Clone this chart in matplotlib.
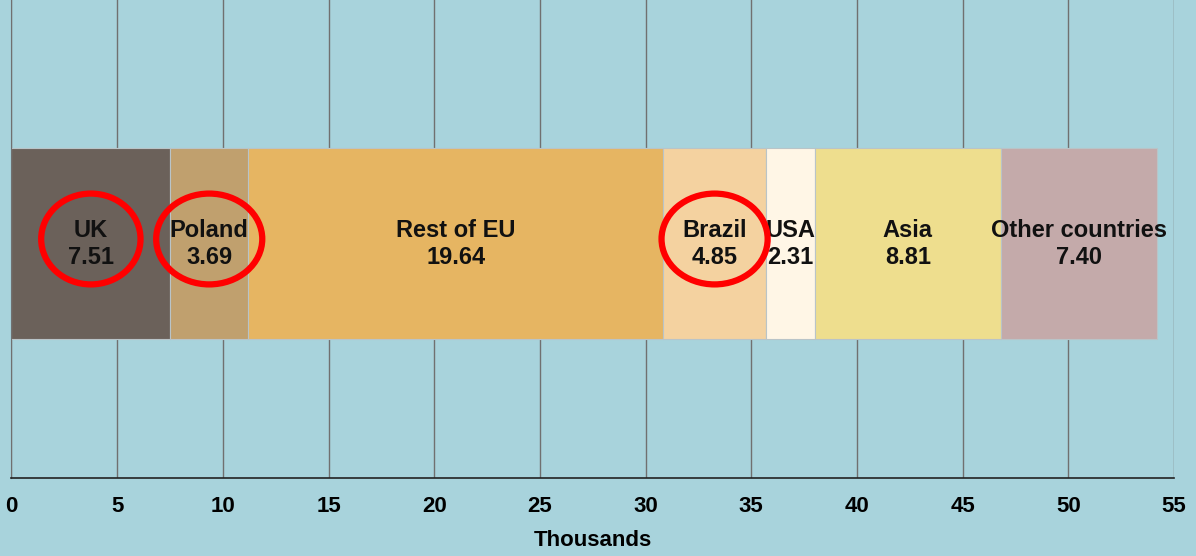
import matplotlib.pyplot as plt
from matplotlib.patches import Ellipse

# values in thousands
categories = ['UK', 'Poland', 'Rest of EU', 'Brazil', 'USA', 'Asia', 'Other countries']
values = [7.51, 3.69, 19.64, 4.85, 2.31, 8.81, 7.40]
colors = ['#6b615a', '#c0a06e', '#e6b562', '#f4d2a0', '#fff6e6', '#eede8e', '#c4aaaa']
circled = ['UK', 'Poland', 'Brazil']
xticks = [0, 5, 10, 15, 20, 25, 30, 35, 40, 45, 50, 55]

bg = '#a8d3dc'
plt.rcParams['font.family'] = ['Liberation Sans', 'DejaVu Sans']

fig = plt.figure(figsize=(11.96, 5.56), dpi=100, facecolor=bg)
ax = fig.add_axes([0.0096, 0.1403, 0.9720, 0.8597])
ax.set_facecolor(bg)

bar_y = 0.49
bar_h = 0.40
left = 0
for name, v, c in zip(categories, values, colors):
    ax.barh(bar_y, v, left=left, height=bar_h, color=c, edgecolor='#b9c4c8',
            linewidth=0.8, zorder=2)
    cx = left + v / 2
    ax.text(cx, bar_y, f'{name}\n{v:.2f}', ha='center', va='center',
            fontsize=17, fontweight='bold', color='#111111', linespacing=1.2,
            zorder=4)
    if name in circled:
        tw = len(name) * 0.62 + 1.3
        ax.add_patch(Ellipse((cx, bar_y + 0.01), width=max(tw, 4.7), height=0.19,
                             fill=False, edgecolor='#ff0000', linewidth=4.5,
                             zorder=5))
    left += v

ax.set_xlim(0, 55)
ax.set_ylim(0, 1)
ax.set_xticks(xticks)
ax.set_xticklabels([str(t) for t in xticks], fontsize=16, fontweight='bold')
ax.tick_params(axis='x', length=0, pad=13)
ax.set_yticks([])
ax.grid(axis='x', color='#707070', linewidth=1.0, zorder=0)
ax.set_axisbelow(True)
for s in ['top', 'right']:
    ax.spines[s].set_visible(False)
ax.spines['left'].set_color('#707070')
ax.spines['bottom'].set_color('#222222')
ax.spines['bottom'].set_linewidth(1.2)
ax.set_xlabel('Thousands', fontsize=16, fontweight='bold', labelpad=9)

fig.savefig('out.png', dpi=100, facecolor=bg)
